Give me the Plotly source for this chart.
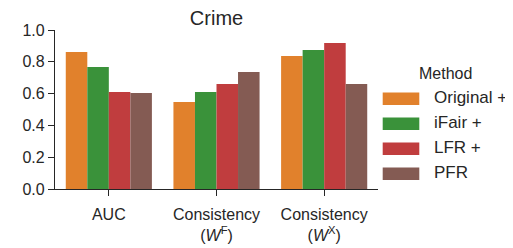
import plotly.graph_objects as go

categories = ["AUC", "Consistency<br>(<i>W</i><sup>F</sup>)", "Consistency<br>(<i>W</i><sup>X</sup>)"]
methods = ["Original +", "iFair +", "LFR +", "PFR"]
original_vals = [0.861, 0.547, 0.836]
ifair_vals = [0.767, 0.610, 0.874]
lfr_vals = [0.610, 0.660, 0.918]
pfr_vals = [0.604, 0.736, 0.660]
colors = ["#e1812c", "#3a923a", "#c03d3e", "#845b53"]
y_ticks = [0.0, 0.2, 0.4, 0.6, 0.8, 1.0]

series = [original_vals, ifair_vals, lfr_vals, pfr_vals]

# The page body has an 8px margin, so the figure is offset by OFF pixels.
OFF = 8
W, H = 513 - OFF, 248 - OFF
L, T = 55 - OFF, 30 - OFF
R, B = 135, 59
pw, ph = W - L - R, H - T - B
txt = "#262626"
FONT = "Liberation Sans, Arial, sans-serif"

fig = go.Figure()
for name, vals, c in zip(methods, series, colors):
    fig.add_trace(go.Bar(x=[0, 1, 2], y=vals, name=name, marker_color=c,
                         marker_line_width=0, showlegend=False))

# helpers mapping screenshot pixel positions to paper coordinates
def px2x(px):
    return (px - OFF - L) / pw

def py2y(py):
    return (H - B - (py - OFF)) / ph

shapes = []
annotations = []
row0, rowstep = 98.7, 25
for i, (name, c) in enumerate(zip(methods, colors)):
    yc = row0 + i * rowstep
    shapes.append(dict(type="rect", xref="paper", yref="paper",
                       x0=px2x(382.7), x1=px2x(419.3), y0=py2y(yc + 6.3), y1=py2y(yc - 6.3),
                       fillcolor=c, line_width=0))
    annotations.append(dict(xref="paper", yref="paper", x=px2x(431.5), y=py2y(yc - 1),
                            text=name, showarrow=False, xanchor="left", yanchor="middle",
                            font=dict(size=17, color=txt, family=FONT)))
annotations.append(dict(xref="paper", yref="paper", x=px2x(445), y=py2y(73),
                        text="Method", showarrow=False, xanchor="center", yanchor="middle",
                        font=dict(size=16, color=txt, family=FONT)))

fig.update_layout(
    width=W, height=H,
    margin=dict(l=L, r=R, t=T, b=B, pad=0, autoexpand=False),
    paper_bgcolor="white", plot_bgcolor="white",
    barmode="group", bargap=0.2, bargroupgap=0,
    title=dict(text="Crime", x=(216.5 - OFF) / W, xanchor="center",
               y=1 - 3 / H, yref="container", yanchor="top", pad=dict(t=0, b=0, l=0, r=0),
               font=dict(size=20, color=txt, family=FONT)),
    font=dict(family=FONT, size=16, color=txt),
    shapes=shapes, annotations=annotations,
    xaxis=dict(range=[-0.5, 2.5], tickvals=[0, 1, 2], ticktext=categories,
               automargin=False, ticklabelstandoff=5,
               showline=True, linecolor=txt, linewidth=1.25, ticks="outside",
               ticklen=6, tickwidth=1.25, tickcolor=txt, showgrid=False, zeroline=False,
               tickfont=dict(size=16, color=txt, family=FONT)),
    yaxis=dict(range=[0, 1.0], tickvals=y_ticks, tickformat=".1f",
               automargin=False,
               showline=True, linecolor=txt, linewidth=1.25, ticks="outside",
               ticklen=6, tickwidth=1.25, tickcolor=txt, showgrid=False, zeroline=False,
               tickfont=dict(size=16, color=txt, family=FONT)),
)

fig.write_html("out.html")
